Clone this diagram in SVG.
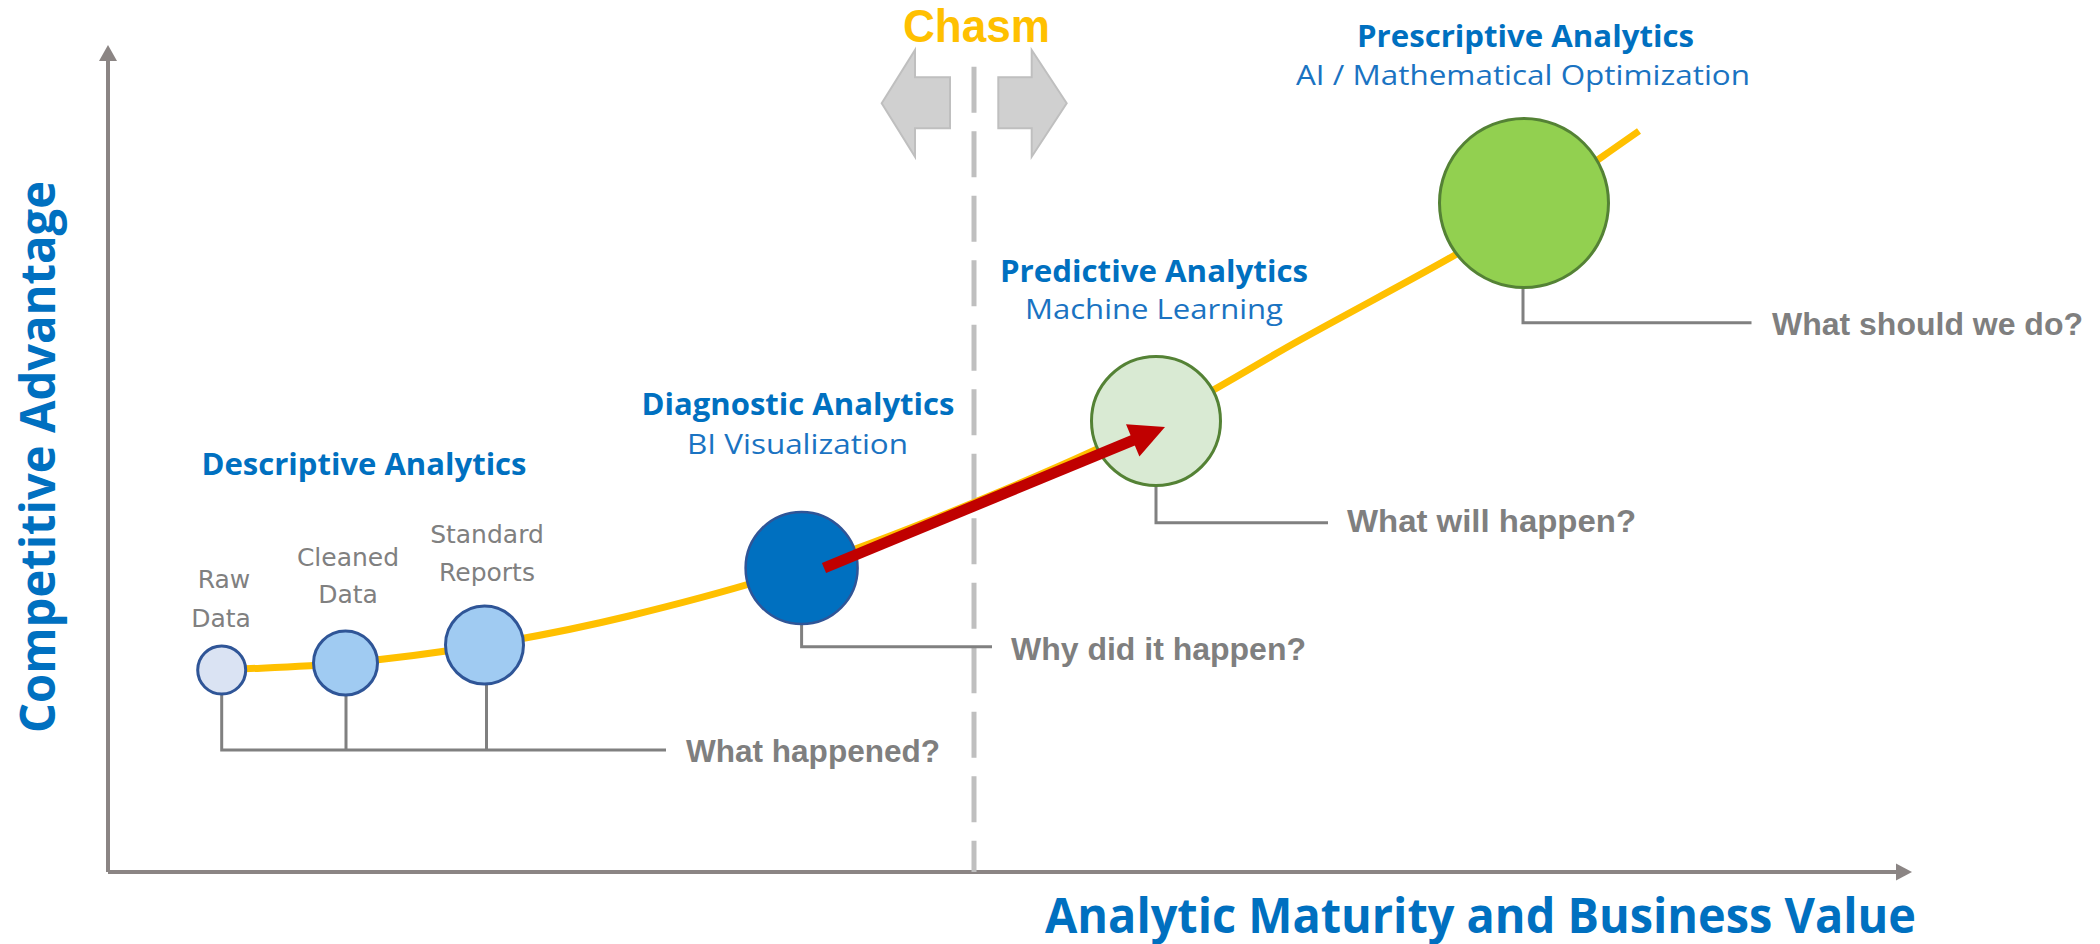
<svg xmlns="http://www.w3.org/2000/svg" width="2100" height="944" viewBox="0 0 2100 944">
<defs>
<style>
.head{font-family:"Open Sans","Liberation Sans",sans-serif;font-weight:700;font-size:30px;fill:#0070c0;text-anchor:middle}
.sub{font-family:"Open Sans","Liberation Sans",sans-serif;font-weight:400;font-size:28px;fill:#1a73c2;text-anchor:middle}
.q{font-family:"Liberation Sans","DejaVu Sans",sans-serif;font-weight:700;font-size:31px;fill:#7f7f7f}
.lbl{font-family:"DejaVu Sans","Liberation Sans",sans-serif;font-size:25px;fill:#808080;text-anchor:middle}
.axislbl{font-family:"Open Sans","Liberation Sans",sans-serif;font-weight:700;font-size:48px;fill:#0070c0}
.stem{fill:none;stroke:#808080;stroke-width:3}
.axis{fill:none;stroke:#8b8584;stroke-width:4}
.blue{stroke:#2f5597;stroke-width:3}
.green{stroke:#548235;stroke-width:3}
</style>
</defs>
<rect width="2100" height="944" fill="#ffffff"/>

<!-- axes -->
<g id="axes">
<path class="axis" d="M108,872 V58 M108,872 H1898"/>
<polygon points="108,45 99,61 117,61" fill="#8b8584"/>
<polygon points="1912,872 1896,863.5 1896,880.5" fill="#8b8584"/>
<text class="axislbl" transform="translate(55,457) rotate(-90)" text-anchor="middle" textLength="552" lengthAdjust="spacingAndGlyphs">Competitive Advantage</text>
<text class="axislbl" x="1045" y="933" textLength="871" lengthAdjust="spacingAndGlyphs">Analytic Maturity and Business Value</text>
</g>

<!-- chasm -->
<g id="chasm">
<line x1="974" y1="66.7" x2="974" y2="872" stroke="#bfbfbf" stroke-width="5" stroke-dasharray="46 18.5"/>
<polygon points="881.7,103.3 915,50 915,77.3 950,77.3 950,128.3 915,128.3 915,156.7" fill="#d0d0d0" stroke="#bfbfbf" stroke-width="2"/>
<polygon points="1066.7,103.3 1031.7,50 1031.7,77.3 998.3,77.3 998.3,128.3 1031.7,128.3 1031.7,156.7" fill="#d0d0d0" stroke="#bfbfbf" stroke-width="2"/>
<text x="976.5" y="42" text-anchor="middle" font-family="Liberation Sans, sans-serif" font-weight="700" font-size="46" fill="#ffc000" textLength="147" lengthAdjust="spacingAndGlyphs">Chasm</text>
</g>

<!-- connectors -->
<g id="connectors">
<path d="M221,670 C262.7,667.7 302,667.2 346,663 C390,658.8 437.8,652.8 485,645 C532.2,637.2 576.3,628.8 629,616 C681.7,603.2 742.5,587.3 801,568 C859.5,548.7 920.8,524.5 980,500 C1039.2,475.5 1102.7,447.7 1156,421 C1209.3,394.3 1250.2,367.7 1300,340 C1349.8,312.3 1417.7,276.5 1455,255 C1492.3,233.5 1497,229 1524,211 C1554.7,190.3 1600.7,157.7 1639,131" fill="none" stroke="#ffc000" stroke-width="7"/>
<path class="stem" d="M221.7,695 V750 H666 M346,696 V750 M486.5,685 V750"/>
<path class="stem" d="M801.6,625 V646.7 H992"/>
<path class="stem" d="M1156,486 V522.7 H1328"/>
<path class="stem" d="M1523,288 V322.7 H1751.5"/>
</g>

<!-- descriptive -->
<g id="descriptive">
<text class="head" x="364" y="475" textLength="325" lengthAdjust="spacingAndGlyphs">Descriptive Analytics</text>
<text class="q" x="686" y="762" textLength="254" lengthAdjust="spacingAndGlyphs">What happened?</text>
</g>
<g id="raw-data">
<circle cx="221.7" cy="670" r="24" fill="#dae3f3" class="blue"/>
<text class="lbl" x="224" y="588">Raw</text>
<text class="lbl" x="221" y="627">Data</text>
</g>
<g id="cleaned-data">
<circle cx="345.5" cy="663" r="32" fill="#a0cbf2" class="blue"/>
<text class="lbl" x="348" y="566">Cleaned</text>
<text class="lbl" x="348" y="603">Data</text>
</g>
<g id="standard-reports">
<circle cx="484.5" cy="645" r="39" fill="#a0cbf2" class="blue"/>
<text class="lbl" x="487" y="543">Standard</text>
<text class="lbl" x="487" y="581">Reports</text>
</g>

<g id="diagnostic">
<circle cx="801.6" cy="568" r="56" fill="#0070c0" stroke="#2f5597" stroke-width="2.5"/>
<text class="head" x="798" y="415" textLength="313" lengthAdjust="spacingAndGlyphs">Diagnostic Analytics</text>
<text class="sub" x="797.5" y="454" textLength="221" lengthAdjust="spacingAndGlyphs">BI Visualization</text>
<text class="q" x="1011" y="660" textLength="295" lengthAdjust="spacingAndGlyphs">Why did it happen?</text>
</g>

<g id="predictive">
<circle cx="1156" cy="421" r="64.5" fill="#d9ead3" class="green"/>
<text class="head" x="1154" y="282" textLength="308" lengthAdjust="spacingAndGlyphs">Predictive Analytics</text>
<text class="sub" x="1154" y="319" textLength="258" lengthAdjust="spacingAndGlyphs">Machine Learning</text>
<text class="q" x="1347" y="532" textLength="289" lengthAdjust="spacingAndGlyphs">What will happen?</text>
</g>

<g id="prescriptive">
<circle cx="1524" cy="203" r="84.5" fill="#92d050" class="green"/>
<text class="head" x="1525.5" y="47" textLength="337" lengthAdjust="spacingAndGlyphs">Prescriptive Analytics</text>
<text class="sub" x="1523" y="85" textLength="454" lengthAdjust="spacingAndGlyphs">AI / Mathematical Optimization</text>
<text class="q" x="1772" y="335" textLength="311" lengthAdjust="spacingAndGlyphs">What should we do?</text>
</g>

<!-- red arrow -->
<g id="red-arrow">
<line x1="824" y1="568" x2="1134" y2="439.8" stroke="#c00000" stroke-width="11"/>
<polygon points="1165,427 1126,424.2 1139.4,456.6" fill="#c00000"/>
</g>
</svg>
